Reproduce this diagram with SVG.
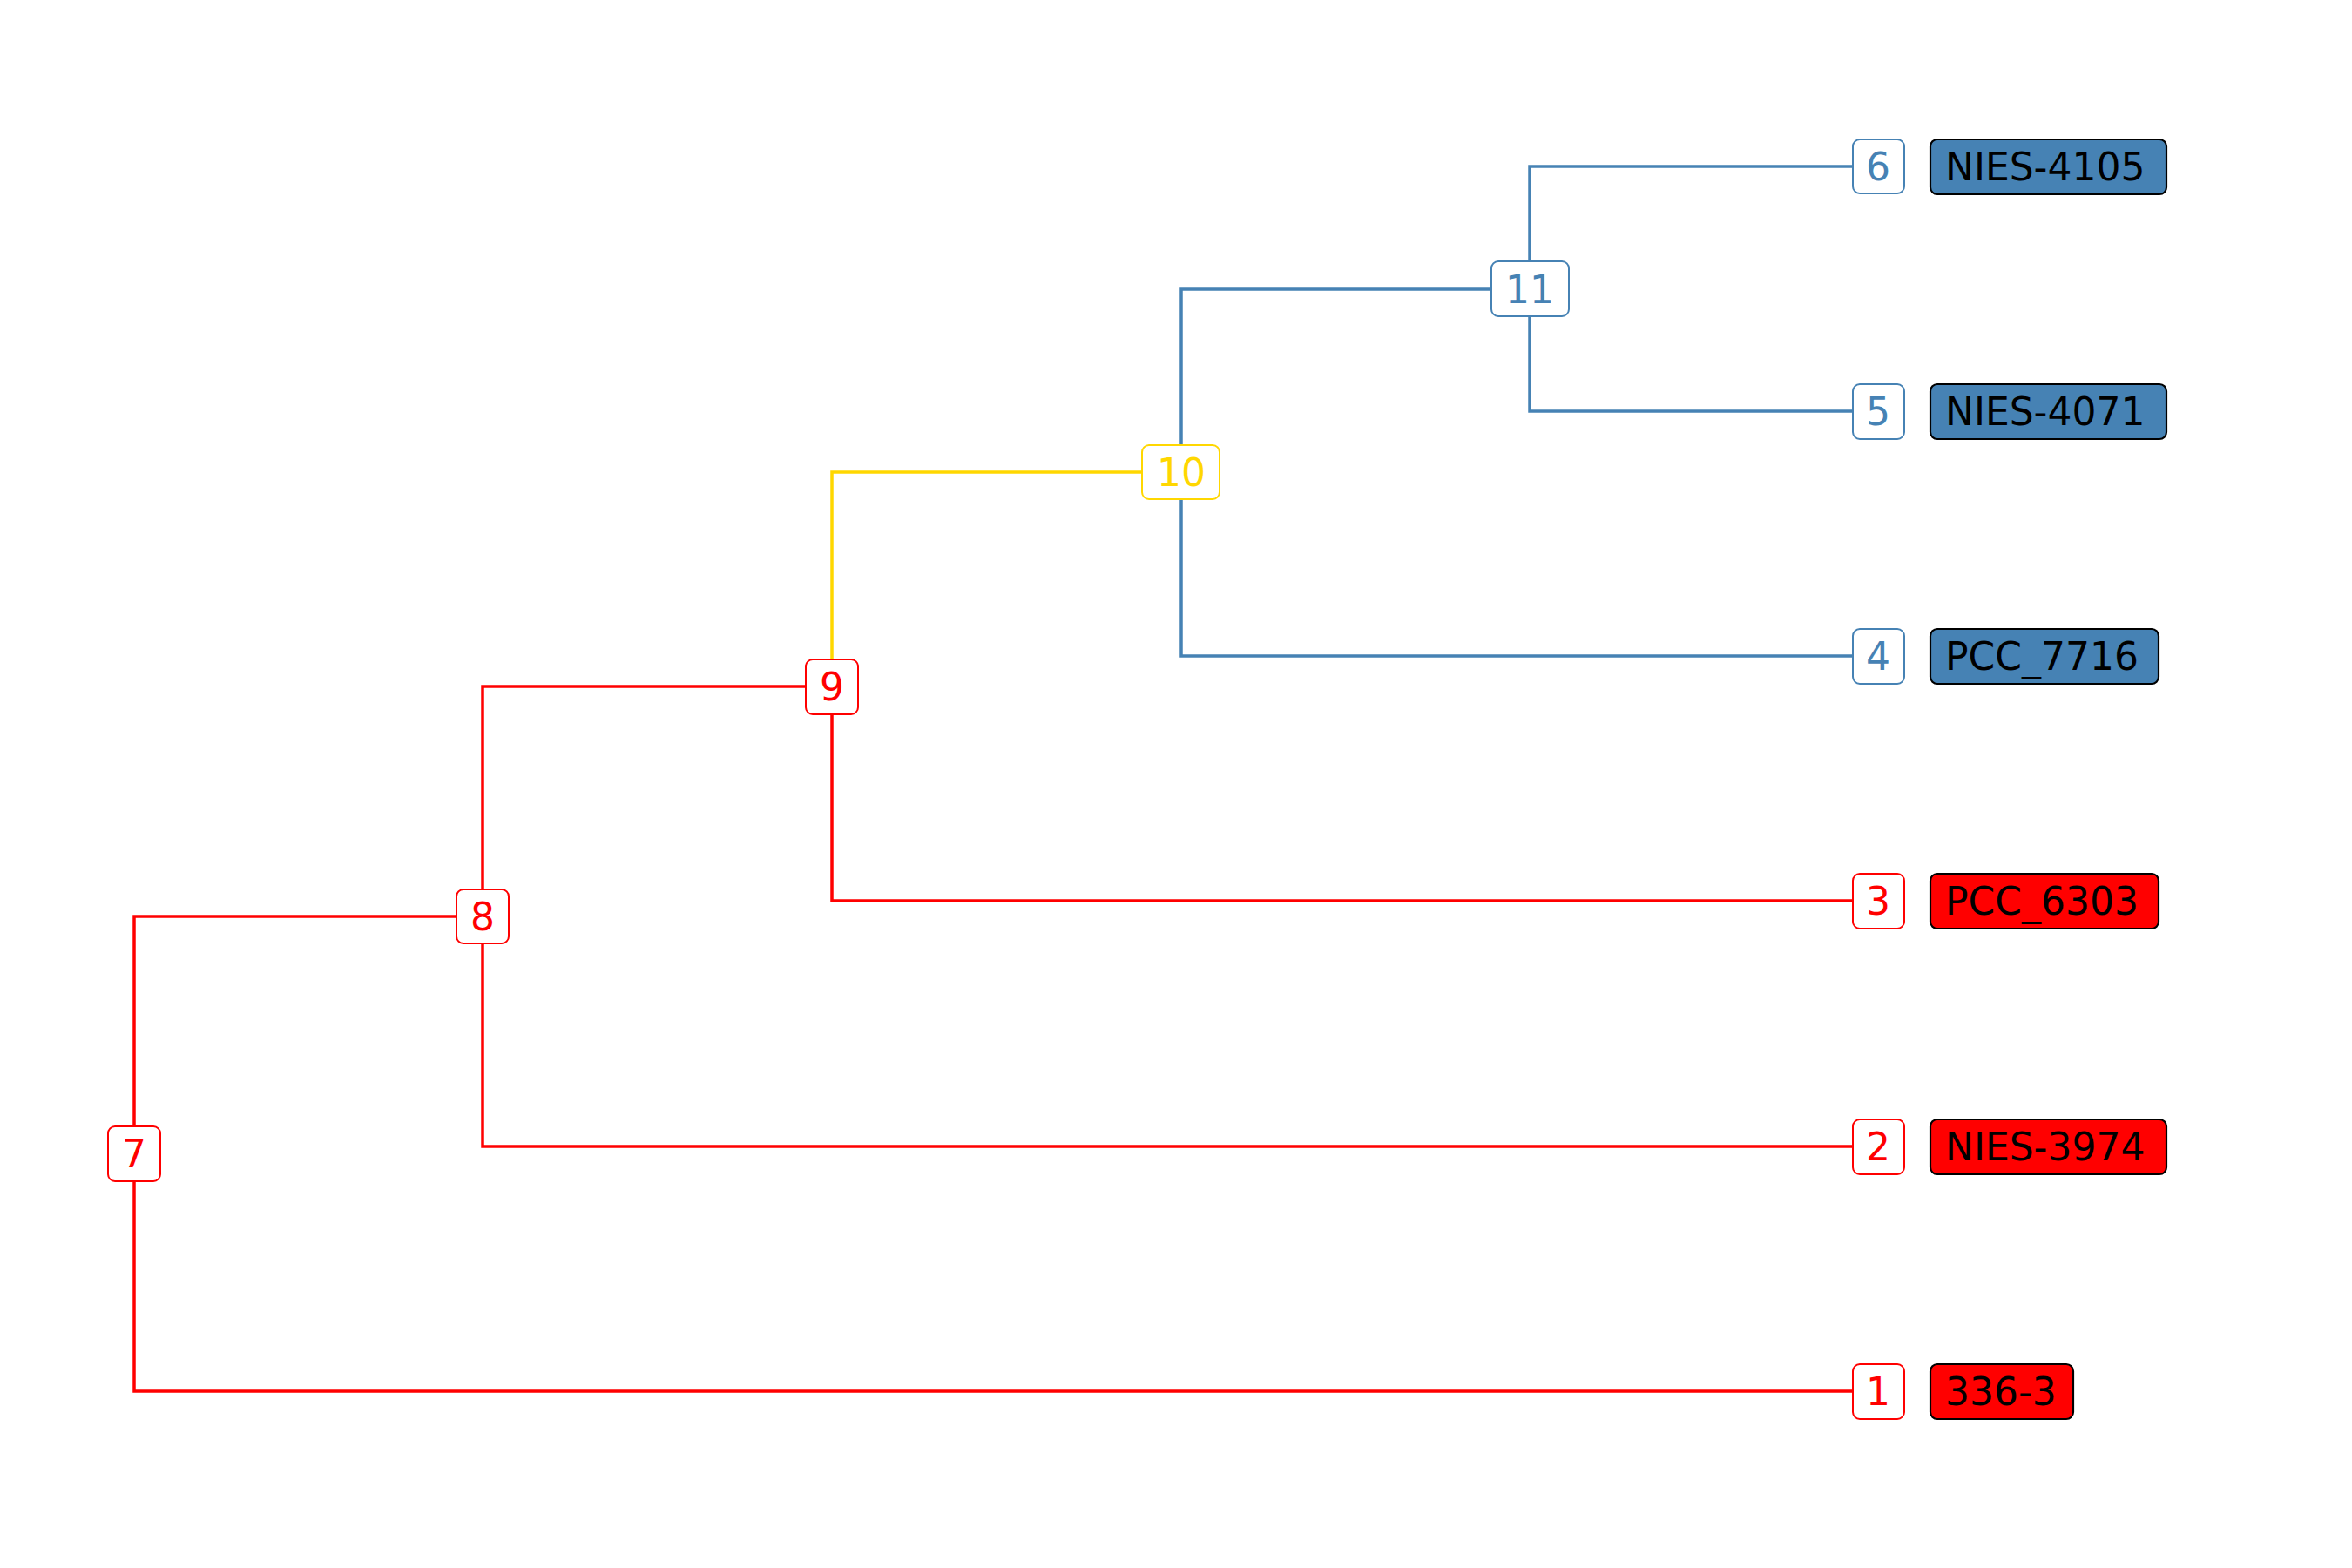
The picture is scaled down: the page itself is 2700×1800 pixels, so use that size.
<svg xmlns="http://www.w3.org/2000/svg" width="2700" height="1800" viewBox="0 0 2700 1800">
<style>
.e{fill:none;stroke-width:3.5;stroke-linejoin:miter;stroke-linecap:butt}
.b{stroke:#4682B4}.r{stroke:#FF0000}.g{stroke:#FFD700}
.nb{fill:#fff;stroke-width:2}
.t{font-family:"DejaVu Sans",sans-serif;font-size:44px}
.n{text-anchor:middle}
.lb{stroke:#000;stroke-width:2.2}
</style>
<rect width="2700" height="1800" fill="#fff"/>
<g id="connectors">
<path class="e r" d="M154,1324 V1597 H2127"/>
<path class="e r" d="M154,1324 V1052 H524"/>
<path class="e r" d="M554,1052 V1316 H2127"/>
<path class="e r" d="M554,1052 V788 H925"/>
<path class="e r" d="M955,788 V1034 H2127"/>
<path class="e g" d="M955,788 V542 H1311"/>
<path class="e b" d="M1356,542 V753 H2127"/>
<path class="e b" d="M1356,542 V332 H1712"/>
<path class="e b" d="M1756,332 V191 H2127"/>
<path class="e b" d="M1756,332 V472 H2127"/>
</g>
<g id="node7"><rect class="nb r" x="124" y="1293" width="60" height="63" rx="8"/><text class="t n" x="154" y="1340" fill="#FF0000">7</text></g>
<g id="node8"><rect class="nb r" x="524" y="1021" width="60" height="62" rx="8"/><text class="t n" x="554" y="1068" fill="#FF0000">8</text></g>
<g id="node9"><rect class="nb r" x="925" y="757" width="60" height="63" rx="8"/><text class="t n" x="955" y="804" fill="#FF0000">9</text></g>
<g id="node10"><rect class="nb g" x="1311" y="511" width="89" height="62" rx="8"/><text class="t n" x="1356" y="558" fill="#FFD700">10</text></g>
<g id="node11"><rect class="nb b" x="1712" y="300" width="89" height="63" rx="8"/><text class="t n" x="1756" y="348" fill="#4682B4">11</text></g>
<g id="node6"><rect class="nb b" x="2127" y="160" width="59" height="62" rx="8"/><text class="t n" x="2156" y="207" fill="#4682B4">6</text></g>
<g id="node5"><rect class="nb b" x="2127" y="441" width="59" height="63" rx="8"/><text class="t n" x="2156" y="488" fill="#4682B4">5</text></g>
<g id="node4"><rect class="nb b" x="2127" y="722" width="59" height="63" rx="8"/><text class="t n" x="2156" y="769" fill="#4682B4">4</text></g>
<g id="node3"><rect class="nb r" x="2127" y="1003" width="59" height="63" rx="8"/><text class="t n" x="2156" y="1050" fill="#FF0000">3</text></g>
<g id="node2"><rect class="nb r" x="2127" y="1285" width="59" height="63" rx="8"/><text class="t n" x="2156" y="1332" fill="#FF0000">2</text></g>
<g id="node1"><rect class="nb r" x="2127" y="1566" width="59" height="63" rx="8"/><text class="t n" x="2156" y="1613" fill="#FF0000">1</text></g>
<g id="label6"><rect class="lb" x="2216" y="160" width="271" height="63" rx="8" fill="#4682B4"/><text class="t" x="2233" y="207" fill="#000">NIES-4105</text></g>
<g id="label5"><rect class="lb" x="2216" y="441" width="271" height="63" rx="8" fill="#4682B4"/><text class="t" x="2233" y="488" fill="#000">NIES-4071</text></g>
<g id="label4"><rect class="lb" x="2216" y="722" width="262" height="63" rx="8" fill="#4682B4"/><text class="t" x="2233" y="769" fill="#000">PCC_7716</text></g>
<g id="label3"><rect class="lb" x="2216" y="1003" width="262" height="63" rx="8" fill="#FF0000"/><text class="t" x="2233" y="1050" fill="#000">PCC_6303</text></g>
<g id="label2"><rect class="lb" x="2216" y="1285" width="271" height="63" rx="8" fill="#FF0000"/><text class="t" x="2233" y="1332" fill="#000">NIES-3974</text></g>
<g id="label1"><rect class="lb" x="2216" y="1566" width="164" height="63" rx="8" fill="#FF0000"/><text class="t" x="2233" y="1613" fill="#000">336-3</text></g>
</svg>
